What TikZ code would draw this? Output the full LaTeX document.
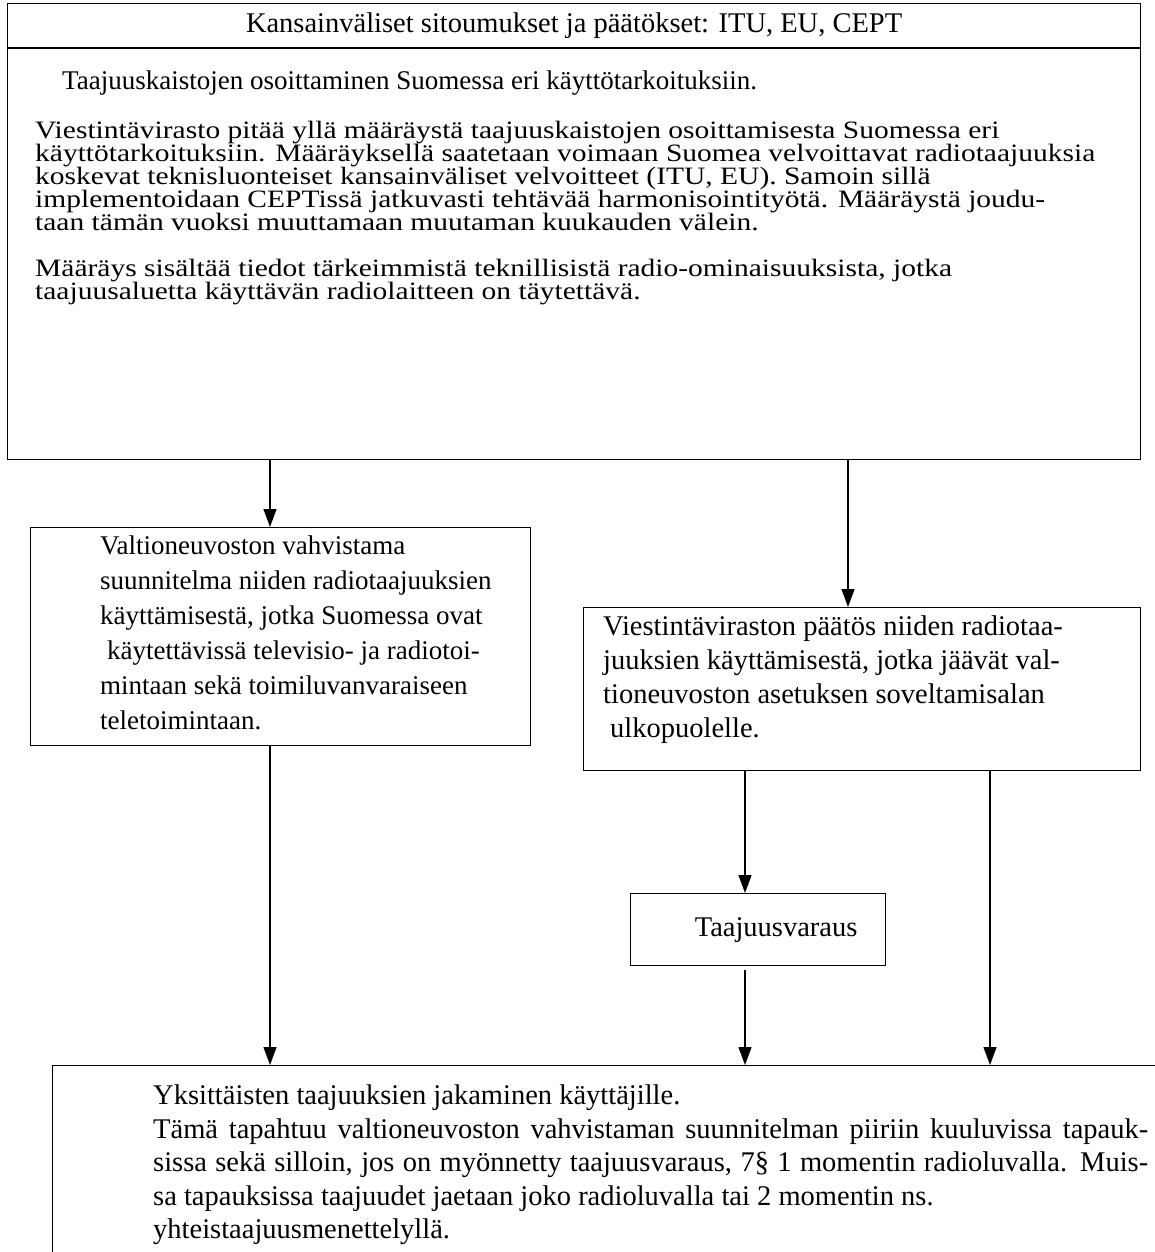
\documentclass[tikz,border=0pt]{standalone}
\usepackage{fontspec}
\setmainfont{Liberation Serif}
\newfontfamily\wideserif[FakeStretch=1.18]{Liberation Serif}
\usetikzlibrary{positioning,arrows.meta}

\begin{document}
\begin{tikzpicture}[x=1pt,y=-1pt,
box/.style={draw, line width=1.2pt, inner sep=0pt, anchor=north west},
txt/.style={inner sep=0pt, align=left, anchor=north west},
widetxt/.style={txt, font={\wideserif\fontsize{25}{23}\selectfont\lineskiplimit=-30pt}},
arr/.style={-{Triangle[length=18pt,width=13pt]}, line width=1.2pt}
]
\useasboundingbox (0,0) rectangle (1155,1252);
\clip (0,0) rectangle (1155,1252);

\node[box, minimum width=1133pt, minimum height=44pt, font=\fontsize{28.5}{30}\selectfont] (title) at (7,3)
  {Kansainväliset sitoumukset ja päätökset: ITU, EU, CEPT};
\node[box, minimum width=1133pt, minimum height=411pt, below=0pt of title] (rules) {};
\draw[line width=2.4pt] (title.south west) -- (title.south east);

\node[txt, font=\fontsize{27}{23}\selectfont] (head) at ([shift={(55,22)}]rules.north west)
  {Taajuuskaistojen osoittaminen Suomessa eri käyttötarkoituksiin.};
\node[widetxt] (upkeep) at ([shift={(28,73)}]rules.north west)
  {Viestintävirasto pitää yllä määräystä taajuuskaistojen osoittamisesta Suomessa eri\\
   käyttötarkoituksiin. Määräyksellä saatetaan voimaan Suomea velvoittavat radiotaajuuksia\\
   koskevat teknisluonteiset kansainväliset velvoitteet (ITU, EU). Samoin sillä\\
   implementoidaan CEPTissä jatkuvasti tehtävää harmonisointityötä. Määräystä joudu-\\
   taan tämän vuoksi muuttamaan muutaman kuukauden välein.};
\node[widetxt] (props) at ([shift={(28,211)}]rules.north west)
  {Määräys sisältää tiedot tärkeimmistä teknillisistä radio-ominaisuuksista, jotka\\
   taajuusaluetta käyttävän radiolaitteen on täytettävä.};

\node[box, minimum width=500pt, minimum height=218pt] (plan) at (30,527) {};
\node[txt, font=\fontsize{27}{35}\selectfont] (plantext) at ([shift={(70,9)}]plan.north west)
  {Valtioneuvoston vahvistama\\
   suunnitelma niiden radiotaajuuksien\\
   käyttämisestä, jotka Suomessa ovat\\
   \hspace*{7pt}käytettävissä televisio- ja radiotoi-\\
   mintaan sekä toimiluvanvaraiseen\\
   teletoimintaan.};

\node[box, minimum width=557pt, minimum height=163pt] (decision) at (583,607) {};
\node[txt, font=\fontsize{28.5}{34}\selectfont] (decisiontext) at ([shift={(20,9)}]decision.north west)
  {Viestintäviraston päätös niiden radiotaa-\\
   juuksien käyttämisestä, jotka jäävät val-\\
   tioneuvoston asetuksen soveltamisalan\\
   \hspace*{7pt}ulkopuolelle.};

\node[box, minimum width=255pt, minimum height=72pt, font=\fontsize{28.5}{30}\selectfont] (reserve) at (630,893)
  {\hspace*{36pt}Taajuusvaraus};

\node[box, minimum width=1200pt, minimum height=300pt] (assign) at (52,1065) {};
\node[txt, font=\fontsize{28.5}{33.5}\selectfont] (assigntext) at ([shift={(101,20)}]assign.north west)
  {Yksittäisten taajuuksien jakaminen käyttäjille.\\
   \makebox[995pt][s]{Tämä tapahtuu valtioneuvoston vahvistaman suunnitelman piiriin kuuluvissa tapauk-}\\
   \makebox[995pt][s]{sissa sekä silloin, jos on myönnetty taajuusvaraus, 7§ 1 momentin radioluvalla. Muis-}\\
   sa tapauksissa taajuudet jaetaan joko radioluvalla tai 2 momentin ns.\\
   yhteistaajuusmenettelyllä.};

\coordinate (xa) at (270,0);
\coordinate (xb) at (848,0);
\coordinate (xc) at (745,0);
\coordinate (xd) at (990,0);

\draw[arr] (rules.south -| xa) -- (plan.north -| xa);
\draw[arr] (rules.south -| xb) -- (decision.north -| xb);
\draw[arr] (decision.south -| xc) -- (reserve.north -| xc);
\draw[arr] (decision.south -| xd) -- (assign.north -| xd);
\draw[arr, shorten <=4pt] (reserve.south -| xc) -- (assign.north -| xc);
\draw[arr] (plan.south -| xa) -- (assign.north -| xa);
\end{tikzpicture}
\end{document}
